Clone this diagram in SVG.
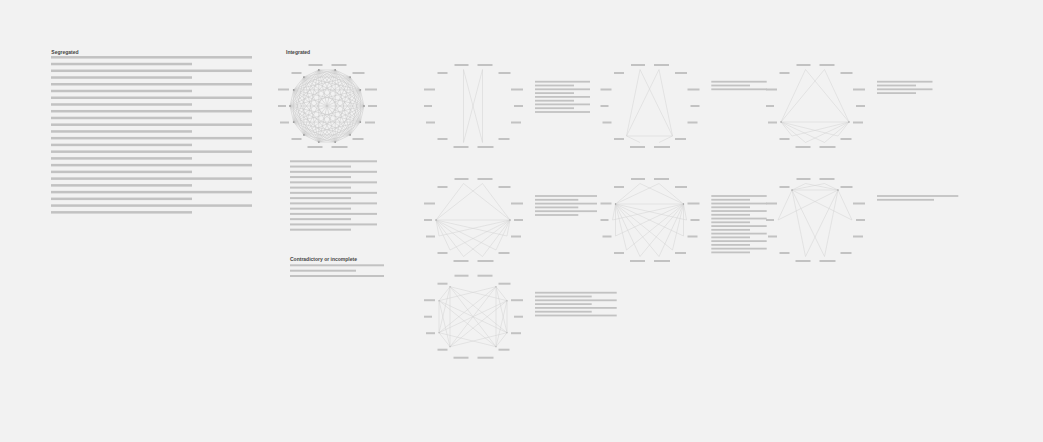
<svg xmlns="http://www.w3.org/2000/svg" xmlns:xlink="http://www.w3.org/1999/xlink" width="1043" height="442" viewBox="0 0 1043 442">
<style>
.bg{fill:#f2f2f2}
.bar{fill:#c2c2c2}
.e{fill:none;stroke:#d2d2d2;stroke-width:0.5}
.ei{fill:none;stroke:#c6c6c6;stroke-width:0.5}
.dot{fill:#9a9a9a}
.t{font-family:"Liberation Sans",Arial,sans-serif;font-size:5px;font-weight:bold;fill:#444444}
</style>
<defs>
<g id="lbl" class="bar">
<rect x="4.5" y="-42" width="15" height="2"/>
<rect x="25.5" y="-34" width="12" height="2"/>
<rect x="38" y="-17.5" width="12" height="2"/>
<rect x="41" y="-1" width="9" height="2"/>
<rect x="38" y="15.5" width="10" height="2"/>
<rect x="25.5" y="32" width="11" height="2"/>
<rect x="4.5" y="40" width="16" height="2"/>
<rect x="-19.5" y="40" width="15" height="2"/>
<rect x="-35.5" y="32" width="10" height="2"/>
<rect x="-47" y="15.5" width="9" height="2"/>
<rect x="-49" y="-1" width="8" height="2"/>
<rect x="-49" y="-17.5" width="11" height="2"/>
<rect x="-35.5" y="-34" width="10" height="2"/>
<rect x="-18.5" y="-42" width="14" height="2"/>
</g>
</defs>
<rect class="bg" x="0" y="0" width="1043" height="442"/>

<!-- Segregated -->
<g id="segregated">
<text class="t" x="51.3" y="53.6">Segregated</text>
<g class="bar">
<rect x="51" y="56.05" width="201" height="2.5"/>
<rect x="51" y="62.79" width="141" height="2.5"/>
<rect x="51" y="69.53" width="201" height="2.5"/>
<rect x="51" y="76.27" width="141" height="2.5"/>
<rect x="51" y="83.01" width="201" height="2.5"/>
<rect x="51" y="89.75" width="141" height="2.5"/>
<rect x="51" y="96.49" width="201" height="2.5"/>
<rect x="51" y="103.23" width="141" height="2.5"/>
<rect x="51" y="109.97" width="201" height="2.5"/>
<rect x="51" y="116.71" width="141" height="2.5"/>
<rect x="51" y="123.45" width="201" height="2.5"/>
<rect x="51" y="130.19" width="141" height="2.5"/>
<rect x="51" y="136.93" width="201" height="2.5"/>
<rect x="51" y="143.67" width="141" height="2.5"/>
<rect x="51" y="150.41" width="201" height="2.5"/>
<rect x="51" y="157.15" width="141" height="2.5"/>
<rect x="51" y="163.89" width="201" height="2.5"/>
<rect x="51" y="170.63" width="141" height="2.5"/>
<rect x="51" y="177.37" width="201" height="2.5"/>
<rect x="51" y="184.11" width="141" height="2.5"/>
<rect x="51" y="190.85" width="201" height="2.5"/>
<rect x="51" y="197.59" width="141" height="2.5"/>
<rect x="51" y="204.33" width="201" height="2.5"/>
<rect x="51" y="211.07" width="141" height="2.5"/>
</g>
</g>

<!-- Integrated -->
<g id="integrated">
<text class="t" x="286" y="53.6">Integrated</text>
<use href="#lbl" xlink:href="#lbl" transform="translate(327,106)"/>
<g class="bar">
<rect x="290" y="160.3" width="87" height="2"/>
<rect x="290" y="165.56" width="61" height="2"/>
<rect x="290" y="170.82" width="87" height="2"/>
<rect x="290" y="176.08" width="61" height="2"/>
<rect x="290" y="181.34" width="87" height="2"/>
<rect x="290" y="186.6" width="61" height="2"/>
<rect x="290" y="191.86" width="87" height="2"/>
<rect x="290" y="197.12" width="61" height="2"/>
<rect x="290" y="202.38" width="87" height="2"/>
<rect x="290" y="207.64" width="61" height="2"/>
<rect x="290" y="212.9" width="87" height="2"/>
<rect x="290" y="218.16" width="61" height="2"/>
<rect x="290" y="223.42" width="87" height="2"/>
<rect x="290" y="228.68" width="61" height="2"/>
</g>
</g>

<!-- Contradictory or incomplete -->
<g id="contradictory">
<text class="t" x="290" y="260.8">Contradictory or incomplete</text>
<g class="bar">
<rect x="290" y="264.3" width="94" height="2"/>
<rect x="290" y="269.7" width="66" height="2"/>
<rect x="290" y="275" width="94" height="2"/>
</g>
</g>

<!-- graph node labels -->
<g id="graph1"><use href="#lbl" xlink:href="#lbl" transform="translate(473,106)"/></g>
<g id="graph2"><use href="#lbl" xlink:href="#lbl" transform="translate(649.5,106)"/></g>
<g id="graph3"><use href="#lbl" xlink:href="#lbl" transform="translate(815,106)"/></g>
<g id="graph4"><use href="#lbl" xlink:href="#lbl" transform="translate(473,220)"/></g>
<g id="graph5"><use href="#lbl" xlink:href="#lbl" transform="translate(649.5,220)"/></g>
<g id="graph6"><use href="#lbl" xlink:href="#lbl" transform="translate(815,220)"/></g>
<g id="graph7"><use href="#lbl" xlink:href="#lbl" transform="translate(473,316.7)"/></g>

<!-- text blocks -->
<g id="text1" class="bar">
<rect x="535" y="80.8" width="55" height="1.8"/>
<rect x="535" y="84.6" width="39" height="1.8"/>
<rect x="535" y="88.4" width="55" height="1.8"/>
<rect x="535" y="92.2" width="39" height="1.8"/>
<rect x="535" y="96" width="55" height="1.8"/>
<rect x="535" y="99.8" width="39" height="1.8"/>
<rect x="535" y="103.5" width="55" height="1.8"/>
<rect x="535" y="107.3" width="39" height="1.8"/>
<rect x="535" y="111.1" width="55" height="1.8"/>
</g>
<g id="text2" class="bar">
<rect x="711.3" y="80.8" width="55.4" height="1.8"/>
<rect x="711.3" y="84.6" width="38.7" height="1.8"/>
<rect x="711.3" y="88.4" width="55.4" height="1.8"/>
</g>
<g id="text3" class="bar">
<rect x="877" y="80.8" width="55.5" height="1.8"/>
<rect x="877" y="84.6" width="39" height="1.8"/>
<rect x="877" y="88.4" width="55.5" height="1.8"/>
<rect x="877" y="92.2" width="39" height="1.8"/>
</g>
<g id="text4" class="bar">
<rect x="535" y="195.1" width="62" height="1.8"/>
<rect x="535" y="198.9" width="43.3" height="1.8"/>
<rect x="535" y="202.7" width="62" height="1.8"/>
<rect x="535" y="206.5" width="43.3" height="1.8"/>
<rect x="535" y="210.3" width="62" height="1.8"/>
<rect x="535" y="214.1" width="43.3" height="1.8"/>
</g>
<g id="text5" class="bar">
<rect x="711.3" y="195.1" width="55.4" height="1.8"/>
<rect x="711.3" y="198.86" width="38.7" height="1.8"/>
<rect x="711.3" y="202.62" width="55.4" height="1.8"/>
<rect x="711.3" y="206.38" width="38.7" height="1.8"/>
<rect x="711.3" y="210.14" width="55.4" height="1.8"/>
<rect x="711.3" y="213.9" width="38.7" height="1.8"/>
<rect x="711.3" y="217.66" width="55.4" height="1.8"/>
<rect x="711.3" y="221.42" width="38.7" height="1.8"/>
<rect x="711.3" y="225.18" width="55.4" height="1.8"/>
<rect x="711.3" y="228.94" width="38.7" height="1.8"/>
<rect x="711.3" y="232.7" width="55.4" height="1.8"/>
<rect x="711.3" y="236.46" width="38.7" height="1.8"/>
<rect x="711.3" y="240.22" width="55.4" height="1.8"/>
<rect x="711.3" y="243.98" width="38.7" height="1.8"/>
<rect x="711.3" y="247.74" width="55.4" height="1.8"/>
<rect x="711.3" y="251.5" width="38.7" height="1.8"/>
</g>
<g id="text6" class="bar">
<rect x="877" y="195.1" width="81.3" height="1.8"/>
<rect x="877" y="198.9" width="57" height="1.8"/>
</g>
<g id="text7" class="bar">
<rect x="535" y="291.8" width="81.7" height="1.8"/>
<rect x="535" y="295.6" width="56.7" height="1.8"/>
<rect x="535" y="299.4" width="81.7" height="1.8"/>
<rect x="535" y="303.2" width="56.7" height="1.8"/>
<rect x="535" y="307" width="81.7" height="1.8"/>
<rect x="535" y="310.8" width="56.7" height="1.8"/>
<rect x="535" y="314.6" width="81.7" height="1.8"/>
</g>

<!-- connectors -->
<g id="connectors">
<g transform="translate(327,106)">
<path class="ei" d="M8.2,-36.1 L23.1,-28.9 L33.3,-16.1 L37,0 L33.3,16.1 L23.1,28.9 L8.2,36.1 L-8.2,36.1 L-23.1,28.9 L-33.3,16.1 L-37,0 L-33.3,-16.1 L-23.1,-28.9 L-8.2,-36.1Z
M8.2,-36.1 L37,0 L8.2,36.1 L-33.3,16.1 L-23.1,-28.9 L23.1,-28.9 L33.3,16.1 L-8.2,36.1 L-37,0 L-8.2,-36.1 L33.3,-16.1 L23.1,28.9 L-23.1,28.9 L-33.3,-16.1Z
M8.2,-36.1 L23.1,28.9 L-37,0 L23.1,-28.9 L8.2,36.1 L-33.3,-16.1 L33.3,-16.1 L-8.2,36.1 L-23.1,-28.9 L37,0 L-23.1,28.9 L-8.2,-36.1 L33.3,16.1 L-33.3,16.1Z
M8.2,-36.1 L33.3,-16.1 L33.3,16.1 L8.2,36.1 L-23.1,28.9 L-37,0 L-23.1,-28.9Z
M23.1,-28.9 L37,0 L23.1,28.9 L-8.2,36.1 L-33.3,16.1 L-33.3,-16.1 L-8.2,-36.1Z
M8.2,-36.1 L33.3,16.1 L-23.1,28.9 L-23.1,-28.9 L33.3,-16.1 L8.2,36.1 L-37,0Z
M23.1,-28.9 L23.1,28.9 L-33.3,16.1 L-8.2,-36.1 L37,0 L-8.2,36.1 L-33.3,-16.1Z
M8.2,-36.1 L8.2,36.1 L-23.1,-28.9 L33.3,16.1 L-37,0 L33.3,-16.1 L-23.1,28.9Z
M23.1,-28.9 L-8.2,36.1 L-8.2,-36.1 L23.1,28.9 L-33.3,-16.1 L37,0 L-33.3,16.1Z
M8.2,-36.1 L-8.2,36.1 M23.1,-28.9 L-23.1,28.9 M33.3,-16.1 L-33.3,16.1 M37,0 L-37,0 M33.3,16.1 L-33.3,-16.1 M23.1,28.9 L-23.1,-28.9 M8.2,36.1 L-8.2,-36.1"/>
<g class="dot">
<circle cx="8.2" cy="-36.1" r="0.9"/><circle cx="23.1" cy="-28.9" r="0.9"/><circle cx="33.3" cy="-16.1" r="0.9"/><circle cx="37" cy="0" r="0.9"/><circle cx="33.3" cy="16.1" r="0.9"/><circle cx="23.1" cy="28.9" r="0.9"/><circle cx="8.2" cy="36.1" r="0.9"/><circle cx="-8.2" cy="36.1" r="0.9"/><circle cx="-23.1" cy="28.9" r="0.9"/><circle cx="-33.3" cy="16.1" r="0.9"/><circle cx="-37" cy="0" r="0.9"/><circle cx="-33.3" cy="-16.1" r="0.9"/><circle cx="-23.1" cy="-28.9" r="0.9"/><circle cx="-8.2" cy="-36.1" r="0.9"/>
</g>
</g>
<g transform="translate(473,106)">
<path class="e" d="M-9.5,-36.5 L-9.5,36.5 M9.5,-36.5 L9.5,36.5 M-9.5,-36.5 L9.5,36.5 M9.5,-36.5 L-9.5,36.5"/>
</g>
<g transform="translate(649.5,106)">
<path class="e" d="M-9.5,-36.5 L-23,30 L23,30 L9.5,-36.5 L-23,30 L-9.5,36.5 M-9.5,-36.5 L23,30 L9.5,36.5"/>
</g>
<g transform="translate(815,106)">
<path class="e" d="M-34,16 L34,16 M-9.5,-36.5 L-34,16 L9.5,-36.5 L34,16 L-9.5,-36.5
M-34,16 L-23,30 M-34,16 L-9.5,36.5 M-34,16 L9.5,36.5 M-34,16 L23,30
M34,16 L-23,30 M34,16 L-9.5,36.5 M34,16 L9.5,36.5 M34,16 L23,30"/>
<g class="dot"><circle cx="-34" cy="16" r="0.7"/><circle cx="34" cy="16" r="0.7"/></g>
</g>
<g transform="translate(473,220)">
<path class="e" d="M-37,0 L37,0 M-9.5,-36.5 L-37,0 L9.5,-36.5 L37,0 L-9.5,-36.5
M-37,0 L-34,16 M-37,0 L-23,30 M-37,0 L-9.5,36.5 M-37,0 L9.5,36.5 M-37,0 L23,30 M-37,0 L34,16
M37,0 L-34,16 M37,0 L-23,30 M37,0 L-9.5,36.5 M37,0 L9.5,36.5 M37,0 L23,30 M37,0 L34,16"/>
<g class="dot"><circle cx="-37" cy="0" r="0.7"/><circle cx="37" cy="0" r="0.7"/></g>
</g>
<g transform="translate(649.5,220)">
<path class="e" d="M-34,-16 L34,-16 M-9.5,-36.5 L-34,-16 L9.5,-36.5 L34,-16 L-9.5,-36.5
M-34,-16 L-37,0 M-34,-16 L-34,16 M-34,-16 L-23,30 M-34,-16 L-9.5,36.5 M-34,-16 L9.5,36.5 M-34,-16 L23,30 M-34,-16 L34,16 M-34,-16 L37,0
M34,-16 L-37,0 M34,-16 L-34,16 M34,-16 L-23,30 M34,-16 L-9.5,36.5 M34,-16 L9.5,36.5 M34,-16 L23,30 M34,-16 L34,16 M34,-16 L37,0"/>
<g class="dot"><circle cx="-34" cy="-16" r="0.7"/><circle cx="34" cy="-16" r="0.7"/></g>
</g>
<g transform="translate(815,220)">
<path class="e" d="M-23,-30 L23,-30 M-9.5,-36.5 L-23,-30 L9.5,-36.5 L23,-30 L-9.5,-36.5
M-23,-30 L-37,0 M-23,-30 L37,0 M23,-30 L-37,0 M23,-30 L37,0
M-23,-30 L-9.5,36.5 M-23,-30 L9.5,36.5 M23,-30 L-9.5,36.5 M23,-30 L9.5,36.5"/>
<g class="dot"><circle cx="-23" cy="-30" r="0.7"/><circle cx="23" cy="-30" r="0.7"/></g>
</g>
<g transform="translate(473,316.7)">
<path class="e" d="M-23,-30 L-34,-16 L-34,16 L-23,30 L-23,-30 L-34,16 M-34,-16 L-23,30
M23,-30 L34,-16 L34,16 L23,30 L23,-30 L34,16 M34,-16 L23,30
M-23,-30 L34,-16 M-23,-30 L34,16 M-23,-30 L23,30
M-34,-16 L23,-30 M-34,-16 L34,16 M-34,-16 L23,30
M-34,16 L23,-30 M-34,16 L34,-16 M-34,16 L23,30
M-23,30 L23,-30 M-23,30 L34,-16 M-23,30 L34,16"/>
<g class="dot"><circle cx="-23" cy="-30" r="0.5"/><circle cx="23" cy="-30" r="0.5"/><circle cx="-34" cy="-16" r="0.5"/><circle cx="34" cy="-16" r="0.5"/><circle cx="-34" cy="16" r="0.5"/><circle cx="34" cy="16" r="0.5"/><circle cx="-23" cy="30" r="0.5"/><circle cx="23" cy="30" r="0.5"/></g>
</g>
</g>
</svg>
